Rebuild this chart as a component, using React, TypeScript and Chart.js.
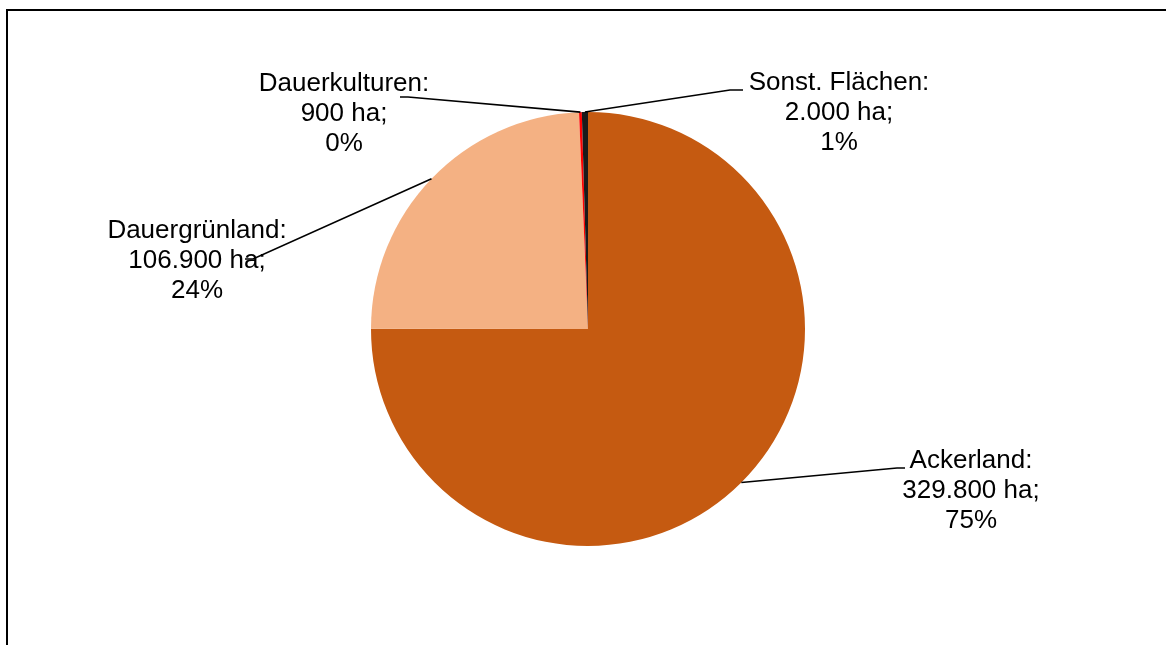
import React, { useEffect, useRef } from "react";
import { Chart, registerables } from "chart.js";

Chart.register(...registerables);

const categories = ["Ackerland", "Dauergrünland", "Dauerkulturen", "Sonst. Flächen"];
const areaHa = [329800, 106900, 900, 2000];
const areaLabels = ["329.800 ha;", "106.900 ha;", "900 ha;", "2.000 ha;"];
const percentLabels = ["75%", "24%", "0%", "1%"];
const sliceColors = ["#C55A11", "#F4B183", "#FF0000", "#1A1A1A"];

// label placement relative to pie centre (text centre x, first line y) and leader elbow points
const labelOffsets = [
  { tx: 383, ty: 132, ex: 309, ey: 139, hx: 317 },
  { tx: -391, ty: -98, ex: -335, ey: -70, hx: -343 },
  { tx: -244, ty: -245, ex: -180, ey: -232, hx: -188 },
  { tx: 251, ty: -246, ex: 142, ey: -239, hx: 155 },
];

const FONT = '26px "Liberation Sans", Arial, sans-serif';
const LINE_H = 30;

const labelPlugin = {
  id: "pieLabels",
  afterDatasetsDraw(chart: any) {
    const ctx = chart.ctx;
    const meta = chart.getDatasetMeta(0);
    ctx.save();
    meta.data.forEach((arc: any, i: number) => {
      const { x, y, startAngle, endAngle, outerRadius } = arc.getProps(
        ["x", "y", "startAngle", "endAngle", "outerRadius"],
        true
      );
      const mid = (startAngle + endAngle) / 2;
      const sx = x + Math.cos(mid) * outerRadius;
      const sy = y + Math.sin(mid) * outerRadius;
      const o = labelOffsets[i];
      ctx.strokeStyle = "#000";
      ctx.lineWidth = 1.6;
      ctx.beginPath();
      ctx.moveTo(sx, sy);
      ctx.lineTo(x + o.ex, y + o.ey);
      ctx.lineTo(x + o.hx, y + o.ey);
      ctx.stroke();
      ctx.fillStyle = "#000";
      ctx.font = FONT;
      ctx.textAlign = "center";
      ctx.textBaseline = "middle";
      const lines = [categories[i] + ":", areaLabels[i], percentLabels[i]];
      lines.forEach((t, k) => {
        ctx.fillText(t, x + o.tx, y + o.ty + k * LINE_H);
      });
    });
    ctx.restore();
  },
};

export default function App() {
  const ref = useRef<HTMLCanvasElement>(null);
  useEffect(() => {
    if (!ref.current) return;
    const chart = new Chart(ref.current, {
      type: "pie",
      data: {
        labels: categories,
        datasets: [
          {
            data: areaHa,
            backgroundColor: sliceColors,
            borderWidth: 0,
          },
        ],
      },
      options: {
        animation: false,
        responsive: false,
        layout: { padding: { top: 112, bottom: 99, left: 300, right: 290 } },
        plugins: {
          legend: { display: false },
          tooltip: { enabled: false },
        },
      },
      plugins: [labelPlugin],
    });
    return () => chart.destroy();
  }, []);
  return (
    <div
      style={{
        position: "fixed",
        left: 0,
        top: 0,
        width: 1166,
        height: 645,
        background: "#fff",
        overflow: "hidden",
      }}
    >
      <canvas ref={ref} width={1166} height={645} style={{ position: "absolute", left: 0, top: 0 }} />
      <div
        style={{
          position: "absolute",
          left: 6,
          top: 9,
          width: 1200,
          height: 700,
          border: "2px solid #000",
          pointerEvents: "none",
        }}
      />
    </div>
  );
}
